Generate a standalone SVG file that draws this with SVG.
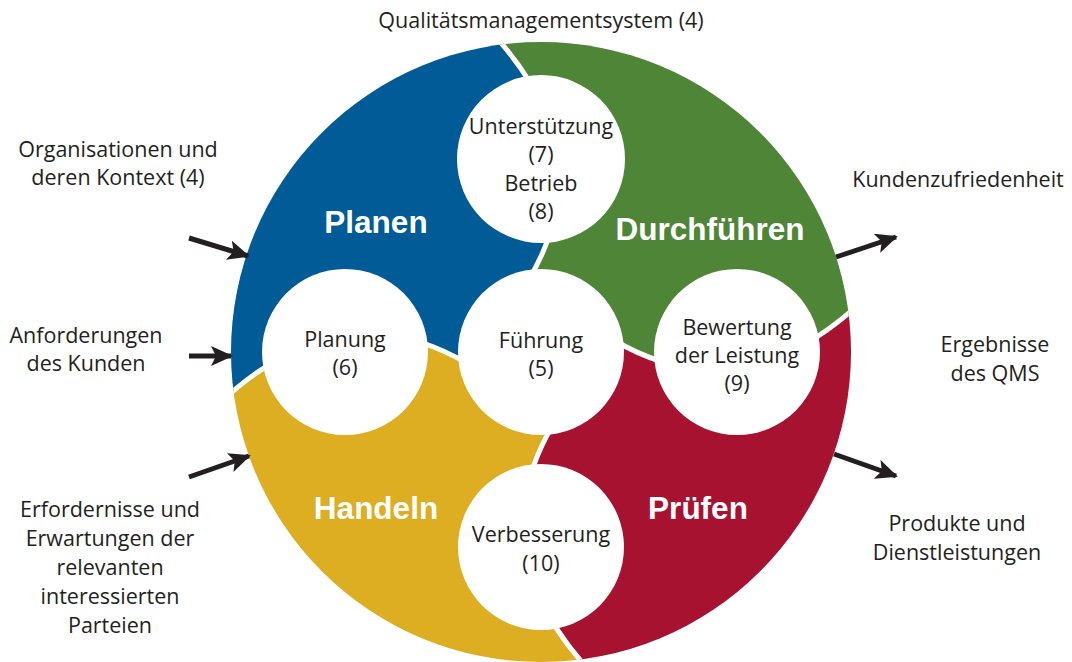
<svg xmlns="http://www.w3.org/2000/svg" width="1072" height="662" viewBox="0 0 1072 662">
<defs>
<style>
.lbl{font-family:"Open Sans","Noto Sans",sans-serif;font-size:21.5px;fill:#231f20;text-anchor:middle}
.big{font-family:"Liberation Sans",Arial,sans-serif;font-weight:bold;font-size:31.5px;fill:#ffffff;text-anchor:middle}
.gap{fill:none;stroke:#ffffff;stroke-width:5}
.arr{fill:none;stroke:#231f20;stroke-width:5}
.hole{fill:#ffffff}
</style>
<clipPath id="disk"><circle cx="0" cy="0" r="310"/></clipPath>
<path id="quad" d="M0 0 L-71 13 Q-196 -62 -316 46 L-376 100 L-440 100 L-440 -400 L-100 -400 L-46 -316 Q62 -196 -13 -71 Z"/>
<path id="bnd" d="M-376 100 L-316 46 Q-196 -62 -71 13"/>
<marker id="ah" markerUnits="userSpaceOnUse" markerWidth="24" markerHeight="22" refX="20" refY="10" orient="auto">
<path d="M0 0 L22 10 L0 20 L5 10 Z" fill="#231f20"/>
</marker>
</defs>
<rect width="1072" height="662" fill="#ffffff"/>
<g id="wheel" transform="translate(541 352)">
<g clip-path="url(#disk)">
<use href="#quad" fill="#005b96"/>
<use href="#quad" fill="#4f8537" transform="rotate(90)"/>
<use href="#quad" fill="#a6122f" transform="rotate(180)"/>
<use href="#quad" fill="#ddae22" transform="rotate(270)"/>
<use href="#bnd" class="gap"/>
<use href="#bnd" class="gap" transform="rotate(90)"/>
<use href="#bnd" class="gap" transform="rotate(180)"/>
<use href="#bnd" class="gap" transform="rotate(270)"/>
</g>
</g>
<g id="labels-big">
<text class="big" x="376" y="233">Planen</text>
<text class="big" x="710" y="240">Durchführen</text>
<text class="big" x="376" y="519">Handeln</text>
<text class="big" x="698" y="519">Prüfen</text>
</g>
<g id="node-unterstuetzung">
<circle class="hole" cx="541" cy="159" r="84"/>
<text class="lbl" x="541" y="134">Unterstützung</text>
<text class="lbl" x="541" y="162">(7)</text>
<text class="lbl" x="541" y="191">Betrieb</text>
<text class="lbl" x="541" y="219">(8)</text>
</g>
<g id="node-planung">
<circle class="hole" cx="345" cy="352" r="83"/>
<text class="lbl" x="345" y="347">Planung</text>
<text class="lbl" x="345" y="375">(6)</text>
</g>
<g id="node-fuehrung">
<circle class="hole" cx="541" cy="352" r="83"/>
<text class="lbl" x="541" y="348">Führung</text>
<text class="lbl" x="541" y="376">(5)</text>
</g>
<g id="node-bewertung">
<circle class="hole" cx="737" cy="352" r="83"/>
<text class="lbl" x="737" y="335">Bewertung</text>
<text class="lbl" x="737" y="363">der Leistung</text>
<text class="lbl" x="737" y="391">(9)</text>
</g>
<g id="node-verbesserung">
<circle class="hole" cx="541" cy="547" r="83"/>
<text class="lbl" x="541" y="542">Verbesserung</text>
<text class="lbl" x="541" y="571">(10)</text>
</g>
<g id="connectors">
<line class="arr" x1="189" y1="238" x2="248" y2="256" marker-end="url(#ah)"/>
<line class="arr" x1="189" y1="356" x2="231" y2="356" marker-end="url(#ah)"/>
<line class="arr" x1="189" y1="477" x2="249" y2="456" marker-end="url(#ah)"/>
<line class="arr" x1="836" y1="257" x2="896" y2="237" marker-end="url(#ah)"/>
<line class="arr" x1="834" y1="454" x2="896" y2="476" marker-end="url(#ah)"/>
</g>
<g id="texts-outer">
<text class="lbl" x="541" y="28">Qualitätsmanagementsystem (4)</text>
<text class="lbl" x="118" y="157">Organisationen und</text>
<text class="lbl" x="118" y="185">deren Kontext (4)</text>
<text class="lbl" x="86" y="343">Anforderungen</text>
<text class="lbl" x="86" y="371">des Kunden</text>
<text class="lbl" x="110" y="517">Erfordernisse und</text>
<text class="lbl" x="110" y="546">Erwartungen der</text>
<text class="lbl" x="110" y="575">relevanten</text>
<text class="lbl" x="110" y="604">interessierten</text>
<text class="lbl" x="110" y="633">Parteien</text>
<text class="lbl" x="958" y="187">Kundenzufriedenheit</text>
<text class="lbl" x="995" y="352">Ergebnisse</text>
<text class="lbl" x="995" y="381">des QMS</text>
<text class="lbl" x="957" y="531">Produkte und</text>
<text class="lbl" x="957" y="560">Dienstleistungen</text>
</g>
</svg>
